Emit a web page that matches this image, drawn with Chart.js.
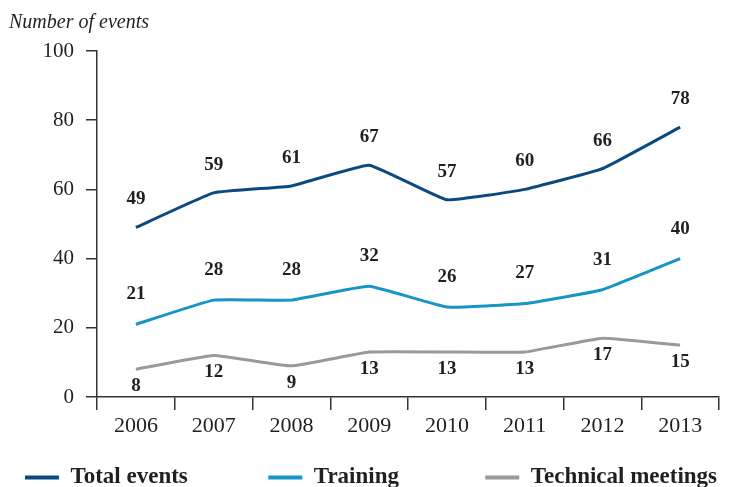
<!DOCTYPE html>
<html>
<head>
<meta charset="utf-8">
<script src="https://cdn.jsdelivr.net/npm/chart.js@4/dist/chart.umd.min.js"></script>
<style>
  html, body { margin: 0; padding: 0; background: #ffffff; }
  #wrap { width: 733px; height: 487px; }
</style>
</head>
<body>
<div id="wrap"><canvas id="c" width="733" height="487"></canvas></div>
<script>
// ---- data ----
const years = ['2006', '2007', '2008', '2009', '2010', '2011', '2012', '2013'];
const totalEvents = [49, 59, 61, 67, 57, 60, 66, 78];
const training = [21, 28, 28, 32, 26, 27, 31, 40];
const technicalMeetings = [8, 12, 9, 13, 13, 13, 17, 15];
const seriesNames = ['Total events', 'Training', 'Technical meetings'];
const yAxisTitle = 'Number of events';

// ---- styling ----
const FONT = '"Liberation Serif", "Times New Roman", serif';
const INK = '#231f20';
const AXIS = '#333333';
const colors = ['#0b4a80', '#1795c7', '#9a9a9d'];
const labelShift = [-28, -30, 17];
const legendGap = [14, 15, 0];

const valueLabels = {
  id: 'valueLabels',
  afterDatasetsDraw(chart) {
    const ctx = chart.ctx;
    ctx.save();
    ctx.font = 'bold 19px ' + FONT;
    ctx.fillStyle = INK;
    ctx.textAlign = 'center';
    ctx.textBaseline = 'middle';
    chart.data.datasets.forEach((ds, i) => {
      const meta = chart.getDatasetMeta(i);
      meta.data.forEach((pt, j) => {
        ctx.fillText(String(ds.data[j]), pt.x, pt.y + labelShift[i]);
      });
    });
    ctx.restore();
  }
};

const seriesData = [totalEvents, training, technicalMeetings];

new Chart(document.getElementById('c'), {
  type: 'line',
  data: {
    labels: years,
    datasets: seriesData.map((d, i) => ({
      label: seriesNames[i],
      data: d,
      borderColor: colors[i],
      backgroundColor: colors[i],
      borderWidth: 3,
      pointRadius: 0,
      pointHoverRadius: 0,
      tension: 0.1,
      fill: false
    }))
  },
  options: {
    responsive: false,
    devicePixelRatio: 1,
    animation: false,
    layout: { padding: { left: 9, right: 0, top: 0, bottom: -12 } },
    scales: {
      x: {
        type: 'category',
        offset: true,
        grid: {
          display: true,
          offset: true,
          drawOnChartArea: false,
          drawTicks: true,
          tickLength: 13,
          color: AXIS,
          lineWidth: 1.5
        },
        border: { display: true, color: AXIS, width: 1.5 },
        ticks: {
          color: INK,
          font: { family: FONT, size: 22 },
          padding: 3,
          maxRotation: 0
        },
        afterFit(s) { s.height = 69; }
      },
      y: {
        min: 0,
        max: 100,
        ticks: {
          stepSize: 20,
          color: INK,
          font: { family: FONT, size: 21 },
          padding: 12
        },
        grid: {
          display: true,
          drawOnChartArea: false,
          drawTicks: true,
          tickLength: 11,
          color: AXIS,
          lineWidth: 1.5
        },
        border: { display: true, color: AXIS, width: 1.5 },
        afterFit(s) { s.width = 88; }
      },
      yPad: {
        type: 'linear',
        position: 'right',
        display: true,
        grid: { display: false, drawTicks: false },
        border: { display: false },
        ticks: { display: false },
        afterFit(s) { s.width = 14; }
      }
    },
    plugins: {
      title: {
        display: true,
        text: yAxisTitle,
        align: 'start',
        color: INK,
        font: { family: FONT, size: 20, style: 'italic', weight: 'normal', lineHeight: 1.2 },
        padding: { top: 11, bottom: 16 }
      },
      legend: {
        display: true,
        position: 'bottom',
        align: 'center',
        labels: {
          color: INK,
          font: { family: FONT, size: 23, weight: 'bold' },
          boxWidth: 34,
          boxHeight: 4,
          padding: 0,
          generateLabels(chart) {
            return chart.data.datasets.map((ds, i) => ({
              text: ds.label + ' '.repeat(legendGap[i]),
              fillStyle: colors[i],
              strokeStyle: colors[i],
              lineWidth: 0,
              hidden: false,
              datasetIndex: i,
              fontColor: INK
            }));
          }
        }
      },
      tooltip: { enabled: false }
    }
  },
  plugins: [valueLabels]
});
</script>
</body>
</html>
